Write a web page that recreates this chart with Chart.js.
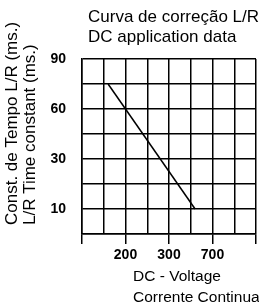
<!DOCTYPE html>
<html>
<head>
<meta charset="utf-8">
<script src="https://cdn.jsdelivr.net/npm/chart.js@4"></script>
<style>
  html, body { margin: 0; padding: 0; background: #fff; }
  #wrap { width: 259px; height: 306px; }
</style>
</head>
<body>
<div id="wrap"><canvas id="chart" width="259" height="306"></canvas></div>
<script>
// grid has 8 columns and 7 rows, labels sit on grid lines
const xTickLabels = ['', '', '200', '', '300', '', '700', '', ''];
const yTickLabels = ['', '10', '', '30', '', '60', '', '90'];

// correction curve, in grid units
const curveX = [1.2, 5.2];
const curveY = [6, 1];

const topTitle = ['Curva de correção L/R', 'DC application data'];
const yTitle = ['Const. de Tempo L/R (ms.)', 'L/R Time constant (ms.)'];
const xTitle = ['DC - Voltage', 'Corrente Continua'];

const FONT = '"Liberation Sans", Arial, sans-serif';

const titlesPlugin = {
    id: 'titles',
    afterDraw(chart) {
        const ctx = chart.ctx;
        const area = chart.chartArea;
        ctx.save();
        ctx.fillStyle = '#000';
        ctx.textAlign = 'left';
        ctx.textBaseline = 'middle';

        ctx.font = '17px ' + FONT;
        ctx.fillText(topTitle[0], area.left + 6, 17);
        ctx.fillText(topTitle[1], area.left + 6, 37);

        ctx.font = '15.5px ' + FONT;
        ctx.fillText(xTitle[0], area.left + 51, area.bottom + 43);
        ctx.fillText(xTitle[1], area.left + 51, area.bottom + 64);

        ctx.font = '17px ' + FONT;
        ctx.translate(0, area.bottom - 9);
        ctx.rotate(-Math.PI / 2);
        ctx.fillText(yTitle[0], 0, 12);
        ctx.fillText(yTitle[1], 0, 30);
        ctx.restore();
    }
};

const ctx = document.getElementById('chart').getContext('2d');
new Chart(ctx, {
    type: 'scatter',
    data: {
        datasets: [{
            data: curveX.map((x, i) => ({ x: x, y: curveY[i] })),
            showLine: true,
            borderColor: '#000',
            borderWidth: 1.5,
            pointRadius: 0
        }]
    },
    options: {
        responsive: false,
        animation: false,
        layout: { padding: { top: 59, right: 2, left: 0, bottom: 0 } },
        plugins: {
            legend: { display: false },
            tooltip: { enabled: false }
        },
        scales: {
            x: {
                type: 'linear',
                min: 0,
                max: xTickLabels.length - 1,
                afterFit: s => { s.height = 72; },
                border: { color: '#000', width: 1.5 },
                grid: {
                    color: '#000',
                    lineWidth: 1.5,
                    drawTicks: true,
                    tickLength: 10,
                    tickColor: c => (c.tick && c.tick.value % 2 === 0) ? '#000' : 'rgba(0,0,0,0)'
                },
                ticks: {
                    stepSize: 1,
                    autoSkip: false,
                    maxRotation: 0,
                    padding: 3,
                    color: '#000',
                    font: { family: FONT, size: 14, weight: 'bold' },
                    callback: v => xTickLabels[v]
                }
            },
            y: {
                type: 'linear',
                min: 0,
                max: yTickLabels.length - 1,
                afterFit: s => { s.width = 82; },
                border: { color: '#000', width: 1.5 },
                grid: {
                    color: '#000',
                    lineWidth: 1.5,
                    drawTicks: false
                },
                ticks: {
                    stepSize: 1,
                    autoSkip: false,
                    padding: 16,
                    color: '#000',
                    font: { family: FONT, size: 14, weight: 'bold' },
                    callback: v => yTickLabels[v]
                }
            }
        }
    },
    plugins: [titlesPlugin]
});
</script>
</body>
</html>
